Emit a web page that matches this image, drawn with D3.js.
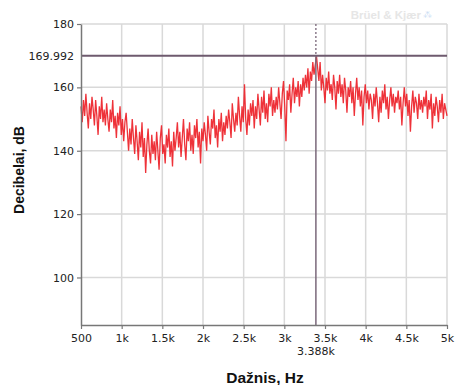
<!DOCTYPE html>
<html>
<head>
<meta charset="utf-8">
<script src="https://cdn.jsdelivr.net/npm/d3@7/dist/d3.min.js"></script>
<style>
  body { margin: 0; background: #fff; }
  svg text { font-family: "DejaVu Sans", sans-serif; }
</style>
</head>
<body>
<svg id="chart" width="455" height="385"></svg>
<script>
// spectrum bins: 500 Hz .. 5000 Hz, every 15 Hz
var freqStart = 500,
    freqStep = 15;

// level in dB (one per bin)
var levels = [
  154,149,156,151,158,152,147,155,150,157,153,148,156,151,145,154,150,157,149,153,
  148,155,150,146,153,149,156,147,151,144,152,148,154,145,150,143,149,152,146,140,
  147,142,150,144,139,148,143,137,146,141,149,138,144,133,142,147,140,136,145,139,
  143,137,146,140,134,144,148,139,142,136,145,141,147,138,143,135,146,140,144,149,
  141,146,138,144,150,142,137,147,143,149,140,145,139,148,144,150,141,146,136,147,
  143,149,145,140,151,146,142,150,147,153,144,148,141,150,146,152,143,149,145,151,
  147,153,149,144,155,150,146,152,148,157,151,146,154,149,161,150,145,153,148,155,
  151,156,147,154,150,158,153,148,157,152,159,150,155,149,158,154,160,151,156,152,
  157,153,160,155,150,158,162,154,143,159,156,161,152,158,163,155,160,157,162,154,
  161,157,163,159,164,160,166,158,165,162,168,164,167,169.9,166,162,168,159,164,160,
  155,163,159,165,158,161,156,164,160,153,162,158,164,157,161,155,163,159,152,160,
  157,162,155,160,151,158,163,156,160,154,159,148,157,161,155,159,153,158,156,150,
  158,154,160,155,149,157,152,159,155,161,153,157,150,156,160,154,158,152,157,155,
  159,153,157,148,155,160,154,158,151,156,146,154,159,152,157,155,150,158,153,156,
  152,157,154,159,150,156,153,158,147,155,151,157,154,149,156,152,158,150,155,153,
  151
];

var xTicks = [500, 1000, 1500, 2000, 2500, 3000, 3500, 4000, 4500, 5000],
    xTickLabels = ["500", "1k", "1.5k", "2k", "2.5k", "3k", "3.5k", "4k", "4.5k", "5k"],
    yTicks = [100, 120, 140, 160, 180];

var cursorFreq = 3388,
    cursorLabel = "3.388k",
    peakLevel = 169.992;

var data = levels.map((v, i) => ({f: freqStart + i * freqStep, db: v}));

let margin = {top: 24, right: 8, bottom: 60, left: 81},
    width = 455 - margin.left - margin.right,
    height = 385 - margin.top - margin.bottom;

let x = d3.scaleLinear().domain([500, 5000]).range([0, width]),
    y = d3.scaleLinear().domain([85, 180]).range([height, 0]);

let svg = d3.select("#chart");
let g = svg.append("g")
    .attr("transform", "translate(" + margin.left + "," + margin.top + ")");

// grid
g.append("g").selectAll("line")
    .data(xTicks.slice(1))
    .enter().append("line")
    .attr("x1", d => x(d)).attr("x2", d => x(d))
    .attr("y1", 0).attr("y2", height)
    .attr("stroke", "#d9d9d9").attr("stroke-width", 1.5);

g.append("g").selectAll("line")
    .data(yTicks)
    .enter().append("line")
    .attr("x1", 0).attr("x2", width)
    .attr("y1", d => y(d)).attr("y2", d => y(d))
    .attr("stroke", "#d9d9d9").attr("stroke-width", 1.5);

// the spectrum
let line = d3.line().x(d => x(d.f)).y(d => y(d.db));
g.append("path")
    .datum(data)
    .attr("fill", "none")
    .attr("stroke", "#ec1c24")
    .attr("stroke-opacity", 0.9)
    .attr("stroke-width", 1.3)
    .attr("d", line);

// peak level line
g.append("line")
    .attr("x1", 0).attr("x2", width)
    .attr("y1", y(peakLevel)).attr("y2", y(peakLevel))
    .attr("stroke", "#6e5a6e").attr("stroke-width", 2);

// cursor
g.append("line")
    .attr("x1", x(cursorFreq)).attr("x2", x(cursorFreq))
    .attr("y1", y(peakLevel)).attr("y2", height)
    .attr("stroke", "#7a687a").attr("stroke-width", 1.5);
g.append("line")
    .attr("x1", x(cursorFreq)).attr("x2", x(cursorFreq))
    .attr("y1", 0).attr("y2", y(peakLevel))
    .attr("stroke", "#6e5a6e").attr("stroke-width", 1.2)
    .attr("stroke-dasharray", "2,2");

// axes
let xAxis = d3.axisBottom(x).tickValues(xTicks)
    .tickFormat((d, i) => xTickLabels[i]).tickSizeInner(4).tickSizeOuter(0);
let yAxis = d3.axisLeft(y).tickValues(yTicks.concat([peakLevel]))
    .tickFormat(d => d === peakLevel ? "169.992" : d).tickSizeInner(4).tickSizeOuter(0);

let gx = g.append("g")
    .attr("transform", "translate(0," + height + ")")
    .call(xAxis);
let gy = g.append("g").call(yAxis);

[gx, gy].forEach(a => {
    a.select(".domain").attr("stroke", "#777").attr("stroke-width", 1.5);
    a.selectAll(".tick line").attr("stroke", "#777").attr("stroke-width", 1.2);
    a.selectAll("text").attr("fill", "#222").style("font-size", "11px")
        .style("font-family", "DejaVu Sans, sans-serif");
});
gy.selectAll(".tick").filter(d => d === peakLevel).select("line").remove();
gx.selectAll("text").attr("dy", "0.95em");

// cursor value under the axis
g.append("text")
    .attr("x", x(cursorFreq)).attr("y", height + 30)
    .attr("text-anchor", "middle")
    .style("font-size", "11px").attr("fill", "#222")
    .text(cursorLabel);

// axis titles
svg.append("text")
    .attr("x", 265).attr("y", 383)
    .attr("text-anchor", "middle")
    .style("font-family", "Liberation Sans, Arial, sans-serif")
    .style("font-weight", "bold").style("font-size", "15.5px")
    .attr("fill", "#111")
    .text("Dažnis, Hz");

svg.append("text")
    .attr("transform", "translate(24,170) rotate(-90)")
    .attr("text-anchor", "middle")
    .style("font-family", "Liberation Sans, Arial, sans-serif")
    .style("font-weight", "bold").style("font-size", "14px")
    .attr("fill", "#111")
    .text("Decibelai, dB");

// watermark
svg.append("text")
    .attr("x", 421).attr("y", 19)
    .attr("text-anchor", "end")
    .style("font-family", "Liberation Sans, Arial, sans-serif")
    .style("font-size", "11.5px").style("font-weight", "bold")
    .attr("fill", "#e6e6e6")
    .text("Brüel & Kjær");
svg.append("text")
    .attr("x", 423).attr("y", 18)
    .style("font-size", "9px")
    .attr("fill", "#c9dcf3")
    .text("⁂");
</script>
</body>
</html>
